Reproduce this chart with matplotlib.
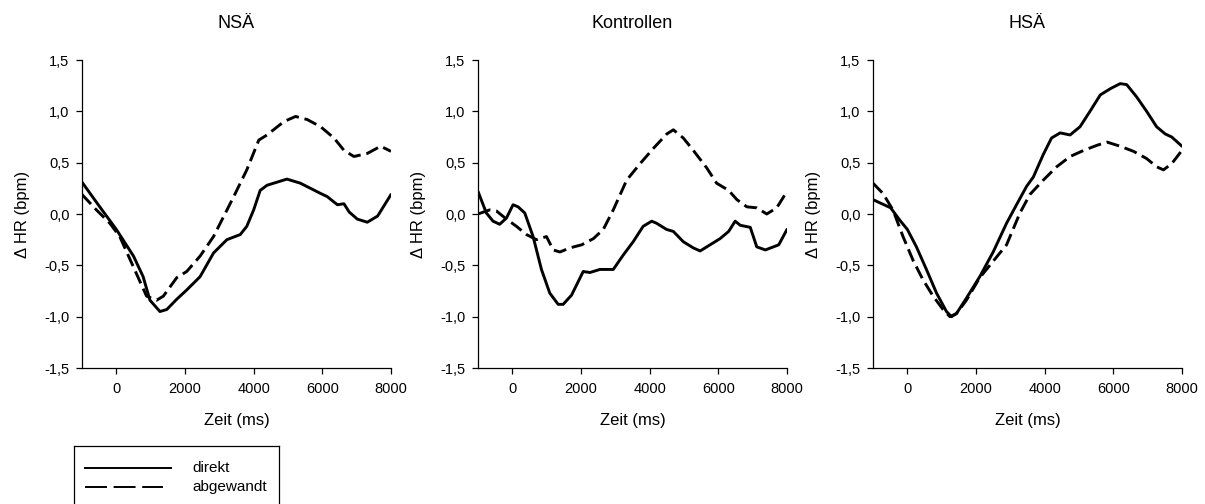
import matplotlib
matplotlib.use("Agg")
import matplotlib.pyplot as plt
from matplotlib.lines import Line2D
from matplotlib.ticker import FuncFormatter

plt.rcParams['font.family'] = ['Liberation Sans', 'DejaVu Sans']

panel_titles = ["NSÄ", "Kontrollen", "HSÄ"]
series_labels = ["direkt", "abgewandt"]

# NSÄ
nsa_direkt_t = [-1000, -483, 0, 500, 780, 980, 1270, 1470, 1760, 2050, 2440, 2830, 3220, 3610,
                3800, 4000, 4190, 4390, 4970, 5360, 5950, 6140, 6440, 6630, 6780, 7020, 7310, 7610, 8000]
nsa_direkt_v = [0.31, 0.07, -0.15, -0.41, -0.61, -0.84, -0.95, -0.93, -0.83, -0.74, -0.61, -0.38, -0.25, -0.20,
                -0.12, 0.04, 0.23, 0.28, 0.34, 0.30, 0.20, 0.17, 0.09, 0.10, 0.02, -0.05, -0.08, -0.02, 0.19]
nsa_abgew_t = [-1000, -580, -190, 100, 490, 880, 1170, 1370, 1760, 2050, 2440, 2830, 3420, 3800,
               4150, 4390, 4880, 5220, 5560, 5950, 6340, 6630, 6920, 7310, 7700, 8000]
nsa_abgew_v = [0.19, 0.04, -0.09, -0.22, -0.51, -0.80, -0.84, -0.80, -0.62, -0.56, -0.41, -0.22, 0.17, 0.43,
               0.72, 0.77, 0.90, 0.95, 0.92, 0.85, 0.74, 0.62, 0.56, 0.59, 0.66, 0.61]

# Kontrollen
kon_direkt_t = [-1000, -757, -562, -368, -173, 21, 167, 362, 605, 848, 1090, 1335, 1480, 1725, 2064,
                2260, 2550, 2940, 3230, 3520, 3810, 4060, 4200, 4490, 4690, 4980, 5270, 5470, 5760,
                6050, 6300, 6490, 6640, 6930, 7120, 7370, 7760, 8000]
kon_direkt_v = [0.22, 0.01, -0.07, -0.10, -0.04, 0.09, 0.07, 0.01, -0.22, -0.54, -0.77, -0.88, -0.88, -0.79, -0.56,
                -0.57, -0.54, -0.54, -0.40, -0.27, -0.12, -0.07, -0.09, -0.15, -0.17, -0.27, -0.33, -0.36, -0.30,
                -0.24, -0.17, -0.07, -0.11, -0.13, -0.32, -0.35, -0.30, -0.15]
kon_abgew_t = [-1000, -660, -465, -170, 120, 410, 705, 995, 1190, 1385, 1680, 2020, 2360, 2650, 2940,
               3330, 3720, 4110, 4500, 4690, 4980, 5270, 5660, 5950, 6300, 6540, 6830, 7120, 7410, 7700, 8000]
kon_abgew_v = [0.00, 0.04, 0.03, -0.05, -0.12, -0.20, -0.25, -0.22, -0.35, -0.37, -0.33, -0.30, -0.24, -0.15, 0.04,
               0.33, 0.49, 0.64, 0.78, 0.82, 0.74, 0.62, 0.45, 0.30, 0.23, 0.14, 0.07, 0.06, 0.00, 0.06, 0.22]

# HSÄ
hsa_direkt_t = [-1000, -485, -220, 0, 265, 556, 850, 1140, 1286, 1430, 1720, 2110, 2500, 2890, 3180,
                3475, 3670, 3960, 4200, 4450, 4740, 5030, 5320, 5620, 5910, 6200, 6390, 6680, 6970,
                7260, 7510, 7700, 8000]
hsa_direkt_v = [0.14, 0.06, -0.06, -0.15, -0.32, -0.54, -0.77, -0.95, -1.00, -0.97, -0.82, -0.61, -0.37, -0.09, 0.09,
                0.27, 0.36, 0.58, 0.74, 0.79, 0.77, 0.85, 1.00, 1.16, 1.22, 1.27, 1.26, 1.14, 1.00,
                0.85, 0.78, 0.75, 0.66]
hsa_abgew_t = [-1000, -710, -420, -125, 165, 455, 750, 1040, 1240, 1430, 1720, 2110, 2500, 2890, 3280,
               3570, 3960, 4350, 4740, 5140, 5530, 5820, 6200, 6590, 6970, 7260, 7460, 7700, 8000]
hsa_abgew_v = [0.30, 0.20, 0.04, -0.22, -0.45, -0.64, -0.80, -0.93, -1.00, -0.97, -0.84, -0.62, -0.46, -0.30, 0.01,
               0.19, 0.33, 0.46, 0.56, 0.62, 0.67, 0.70, 0.66, 0.61, 0.54, 0.46, 0.43, 0.49, 0.62]

panels = [
    (nsa_direkt_t, nsa_direkt_v, nsa_abgew_t, nsa_abgew_v),
    (kon_direkt_t, kon_direkt_v, kon_abgew_t, kon_abgew_v),
    (hsa_direkt_t, hsa_direkt_v, hsa_abgew_t, hsa_abgew_v),
]

x_ticks = [0, 2000, 4000, 6000, 8000]
y_ticks = [-1.5, -1.0, -0.5, 0.0, 0.5, 1.0, 1.5]

W, H = 1205, 504
fig = plt.figure(figsize=(W / 100, H / 100), dpi=100)

lefts = [82, 478, 873]
ax_w, ax_top, ax_bot = 309, 60, 368
dash = (0, (4.5, 2.0))

comma = FuncFormatter(lambda v, p: f"{v:.1f}".replace(".", ","))

for left, title, (td, vd, ta, va) in zip(lefts, panel_titles, panels):
    ax = fig.add_axes([left / W, (H - ax_bot) / H, ax_w / W, (ax_bot - ax_top) / H])
    ax.plot(td, vd, color="black", lw=2.1, solid_joinstyle="round", solid_capstyle="round")
    ax.plot(ta, va, color="black", lw=2.1, linestyle=dash)
    ax.set_xlim(-1000, 8000)
    ax.set_ylim(-1.5, 1.5)
    ax.set_xticks(x_ticks)
    ax.set_yticks(y_ticks)
    ax.yaxis.set_major_formatter(comma)
    for s in ["top", "right"]:
        ax.spines[s].set_visible(False)
    for s in ["left", "bottom"]:
        ax.spines[s].set_linewidth(0.9)
    ax.tick_params(direction="out", length=4.5, width=0.9, labelsize=10.5)
    ax.tick_params(axis="y", pad=4.5)
    ax.tick_params(axis="x", pad=5.5)
    ax.set_xlabel("Zeit (ms)", fontsize=12, labelpad=12)
    ax.set_ylabel("\u0394 HR (bpm)", fontsize=12, labelpad=10)
    ax.set_title(title, fontsize=13, pad=23)

# Legend box below the first panel
lax = fig.add_axes([74 / W, (H - 520) / H, 205 / W, 74 / H])
lax.set_xlim(0, 205)
lax.set_ylim(74, 0)
lax.set_xticks([])
lax.set_yticks([])
for s in lax.spines.values():
    s.set_linewidth(0.9)
lax.add_line(Line2D([11, 97], [22, 22], color="black", lw=1.4))
lax.add_line(Line2D([11, 89], [41, 41], color="black", lw=1.4, linestyle=(0, (11.3, 3.4))))
lax.text(118, 22, series_labels[0], fontsize=11, va="center", ha="left")
lax.text(118, 41, series_labels[1], fontsize=11, va="center", ha="left")

fig.savefig("out.png", dpi=100)
